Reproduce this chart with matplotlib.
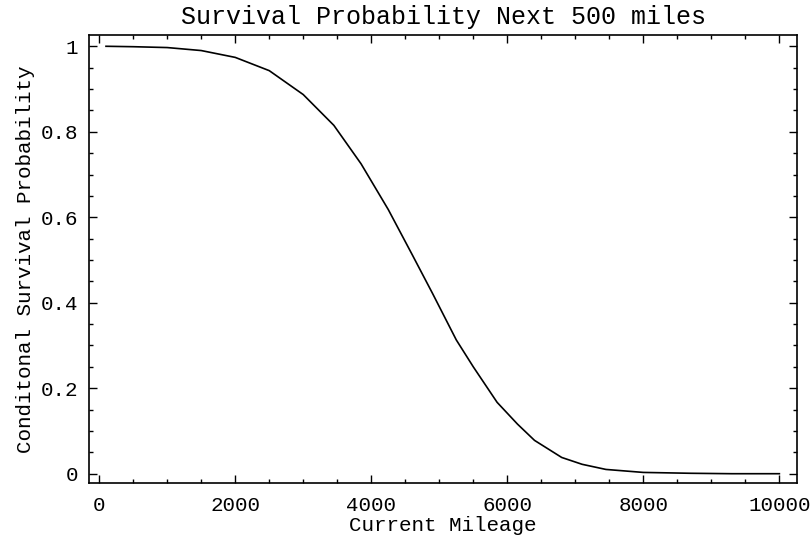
import numpy as np
import matplotlib.pyplot as plt
from matplotlib.ticker import MultipleLocator

# valeurs (miles, probabilite)
mileage = [100, 500, 1000, 1500, 2000, 2500, 3000, 3450, 3850, 4250, 4600,
           4900, 5250, 5500, 5850, 6150, 6400, 6800, 7100, 7450, 8000,
           8700, 9300, 10000]
survie = [1.000, 0.999, 0.997, 0.990, 0.974, 0.943, 0.887, 0.815, 0.725,
          0.618, 0.513, 0.422, 0.313, 0.250, 0.167, 0.116, 0.078, 0.038,
          0.022, 0.010, 0.003, 0.001, 0.0, 0.0]

xticks = [0, 2000, 4000, 6000, 8000, 10000]
yticks = [0, 0.2, 0.4, 0.6, 0.8, 1]
ytick_labels = ["0", "0.2", "0.4", "0.6", "0.8", "1"]

plt.rcParams['font.family'] = ['Liberation Mono', 'DejaVu Sans Mono']
plt.rcParams['font.size'] = 15

fig = plt.figure(figsize=(8.12, 5.41), dpi=100)
ax = fig.add_axes([0.1096, 0.107, 0.872, 0.828])

ax.plot(mileage, survie, color='black', linewidth=1.2)

ax.set_xlim(-150, 10260)
ax.set_ylim(-0.022, 1.026)
ax.set_xticks(xticks)
ax.set_yticks(yticks)
ax.set_yticklabels(ytick_labels)
ax.xaxis.set_minor_locator(MultipleLocator(500))
ax.yaxis.set_minor_locator(MultipleLocator(0.05))
ax.tick_params(which='both', direction='in', top=True, right=True, width=1)
ax.tick_params(which='major', length=6)
ax.tick_params(axis='x', which='major', pad=9)
ax.tick_params(axis='y', which='major', pad=8)
ax.tick_params(which='minor', length=3)
for s in ax.spines.values():
    s.set_linewidth(1.2)

ax.set_xlabel("Current Mileage", labelpad=1)
ax.set_ylabel("Conditonal Survival Probability", labelpad=4)
ax.set_title("Survival Probability Next 500 miles", pad=8)

fig.savefig("out.png", dpi=100)
